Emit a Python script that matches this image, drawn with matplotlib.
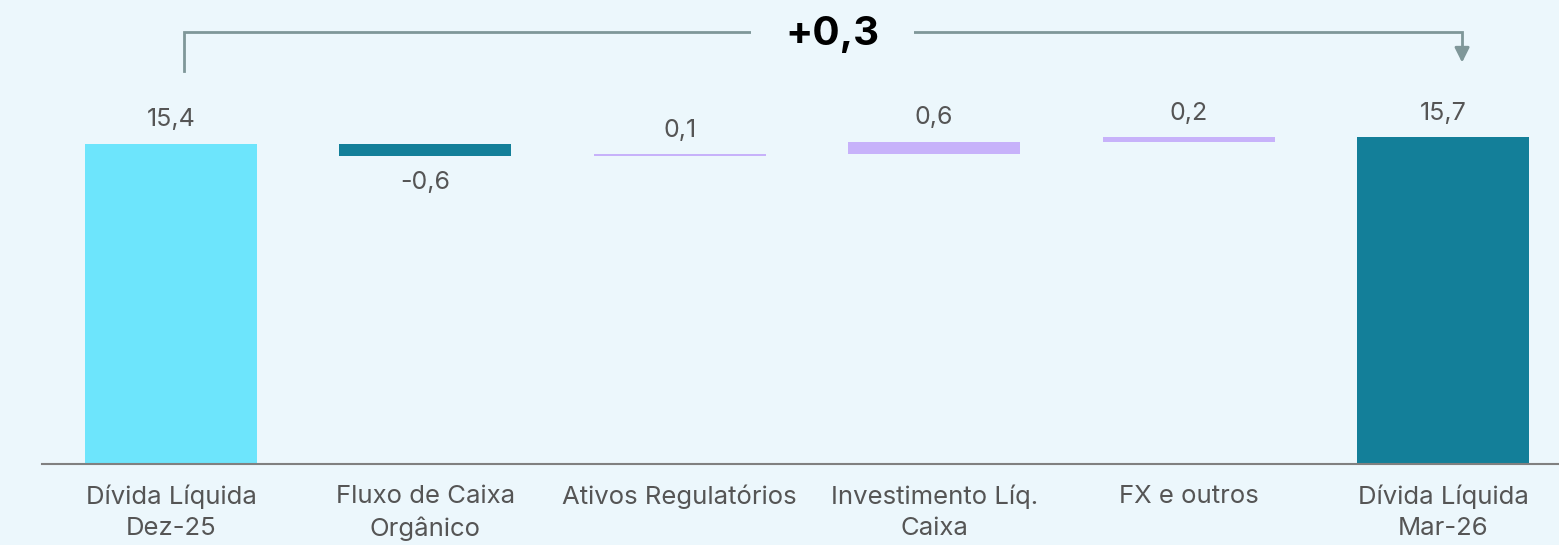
import matplotlib.pyplot as plt
import numpy as np

# dados (bilhões R$)
categorias = ["Dívida Líquida\nDez-25", "Fluxo de Caixa\nOrgânico", "Ativos Regulatórios",
              "Investimento Líq.\nCaixa", "FX e outros", "Dívida Líquida\nMar-26"]
valores = [15.4, -0.6, 0.1, 0.6, 0.2, 15.7]
rotulos = ["15,4", "-0,6", "0,1", "0,6", "0,2", "15,7"]
tipos = ["total", "delta", "delta", "delta", "delta", "total"]
variacao_txt = "+0,3"

BG = "#ECF7FC"
C_INI = "#6DE5FC"
C_FIM = "#137F99"
C_NEG = "#137F99"
C_POS = "#C7B2FA"
C_TXT = "#555555"
C_SETA = "#7F9799"

plt.rcParams['font.family'] = ['Inter', 'DejaVu Sans']

fig = plt.figure(figsize=(15.59, 5.45), dpi=100, facecolor=BG)
ax = fig.add_axes([42/1559, (545-464)/545, (1559-42)/1559, 464/545])
ax.set_facecolor(BG)

# base e altura de cada barra do waterfall
bases, alturas, cores = [], [], []
acum = 0.0
for i, (v, t) in enumerate(zip(valores, tipos)):
    if t == "total":
        bases.append(0.0)
        alturas.append(v)
        cores.append(C_INI if i == 0 else C_FIM)
        acum = v
    else:
        bases.append(acum if v >= 0 else acum + v)
        alturas.append(abs(v))
        cores.append(C_POS if v >= 0 else C_NEG)
        acum += v

x = np.arange(len(categorias))
ax.bar(x, alturas, bottom=bases, width=0.676, color=cores, linewidth=0)

# rótulos de valor
for i, (v, t) in enumerate(zip(valores, tipos)):
    topo = bases[i] + alturas[i]
    if t == "delta" and v < 0:
        ax.annotate(rotulos[i], (x[i], bases[i]), xytext=(0, -11), textcoords='offset points',
                    ha='center', va='top', fontsize=18, color=C_TXT)
    else:
        ax.annotate(rotulos[i], (x[i], topo), xytext=(0, 9), textcoords='offset points',
                    ha='center', va='bottom', fontsize=18, color=C_TXT)

ax.set_xlim(-0.507, 5.456)
ax.set_ylim(0, 464/20.8)

ax.set_xticks(x)
ax.set_xticklabels(categorias, fontsize=18.5, color=C_TXT, linespacing=1.45)
ax.tick_params(axis='x', length=0, pad=15)
ax.set_yticks([])
for s in ['top', 'left', 'right']:
    ax.spines[s].set_visible(False)
ax.spines['bottom'].set_color('#808080')
ax.spines['bottom'].set_linewidth(1.5)

# colchete com a variação total
y_top = 20.77
x_ini, x_fim = x[0] + 0.05, x[-1] + 0.075
ax.plot([x_ini, x_ini, x_fim, x_fim], [valores[0] + 3.5, y_top, y_top, 19.9],
        color=C_SETA, lw=2, clip_on=False, solid_joinstyle='miter')
ax.annotate("", xy=(x_fim, valores[-1] + 3.6), xytext=(x_fim, 20.0),
            arrowprops=dict(arrowstyle='-|>', color=C_SETA, lw=2, mutation_scale=22,
                            shrinkA=0, shrinkB=0), annotation_clip=False)
ax.text(2.6, y_top - 0.1, variacao_txt, ha='center', va='center', fontsize=29, fontweight='bold',
        color='black', bbox=dict(facecolor=BG, edgecolor='none', boxstyle='square,pad=0.85'))

fig.savefig("out.png", dpi=100, facecolor=BG)
